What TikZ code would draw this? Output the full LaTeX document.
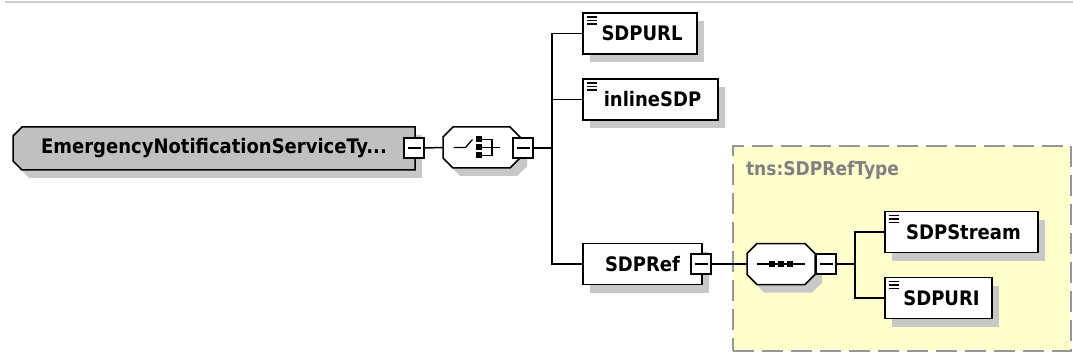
\documentclass[tikz,border=0pt]{standalone}
\usepackage{fontspec}
\setmainfont{DejaVu Sans Condensed}
\usetikzlibrary{shadows}
\definecolor{shcol}{RGB}{200,200,200}
\definecolor{rootfill}{RGB}{192,192,192}
\definecolor{cmplx}{RGB}{255,255,206}
\definecolor{dashc}{RGB}{150,150,150}
\definecolor{lblc}{RGB}{128,128,128}
\definecolor{topln}{RGB}{204,204,204}
\pgfdeclarelayer{bg}
\pgfsetlayers{bg,main}
% octagon outline round a node (#1), chamfer #2 pt
\newcommand\octopath[2]{([xshift=#2pt]#1.north west) -- ([xshift=-#2pt]#1.north east) -- ([yshift=-#2pt]#1.north east) -- ([yshift=#2pt]#1.south east) -- ([xshift=-#2pt]#1.south east) -- ([xshift=#2pt]#1.south west) -- ([yshift=#2pt]#1.south west) -- ([yshift=-#2pt]#1.north west) -- cycle}
% outline chamfered on the left corners only
\newcommand\leftchampath[2]{([xshift=#2pt]#1.north west) -- (#1.north east) -- (#1.south east) -- ([xshift=#2pt]#1.south west) -- ([yshift=#2pt]#1.south west) -- ([yshift=-#2pt]#1.north west) -- cycle}
\begin{document}
\begin{tikzpicture}[x=1pt,y=-1pt,
  every node/.style={inner sep=0pt, outer sep=0pt},
  lbl/.style={font=\bfseries\fontsize{20}{22}\selectfont},
  shad/.style={drop shadow={shadow xshift=7pt,shadow yshift=-8pt,fill=shcol,opacity=1}},
  elem/.style={rectangle, draw=black, line width=1.5pt, fill=white, minimum height=41pt, shad, lbl},
  texticon/.style={path picture={\foreach \dy in {4,7.5,11}{\draw[line width=1.5pt] ([shift={(3.5pt,-\dy pt)}]path picture bounding box.north west) -- ++(10pt,0pt);}}},
  minusbox/.style={rectangle, draw=black, line width=1.3pt, fill=white, minimum width=20pt, minimum height=20pt,
    path picture={\draw[line width=1.3pt] ([xshift=-6.5pt]path picture bounding box.center) -- ([xshift=6.5pt]path picture bounding box.center);}},
  holder/.style={rectangle, draw=none, fill=none},
  shapeline/.style={draw=black, line width=1.5pt},
  shadowfill/.style={fill=shcol, transform canvas={shift={(7pt,-8pt)}}},
  conn/.style={draw=black, line width=1.5pt},
  cpxbox/.style={rectangle, fill=cmplx, draw=dashc, line width=1.5pt, dash pattern=on 21pt off 8pt},
  cpxlabel/.style={font=\bfseries\fontsize{19}{21}\selectfont, text=lblc}
]
\useasboundingbox (0,0) rectangle (1073,358);
\draw[topln, line width=2pt] (5,2.5) -- (1073,2.5);

% complex type region
\node[cpxbox, minimum width=338pt, minimum height=205pt] (cpx) at (902,248.5) {};
\node[cpxlabel, anchor=west] (cpxlbl) at (746,170) {tns:SDPRefType};

% root element
\node[holder, lbl, minimum width=402pt, minimum height=43pt] (root) at (214,148.5) {EmergencyNotificationServiceTy...};
\begin{pgfonlayer}{bg}
  \fill[shadowfill] \leftchampath{root}{9};
  \path[shapeline, fill=rootfill] \leftchampath{root}{9};
\end{pgfonlayer}
\node[minusbox] (rootm) at (414,148) {};

% choice compositor
\node[holder, minimum width=77pt, minimum height=41pt] (ch) at (481.5,147.5) {};
\fill[shadowfill] \octopath{ch}{10};
\path[shapeline, fill=white] \octopath{ch}{10};
\node[minusbox] (chm) at (523,148) {};
\begin{scope}[shift={(ch.center)}, line width=1.3pt]
  \draw (-28,0) -- (-16,0) -- (-9,-8);
  \foreach \yy in {-8,0,8} {
    \fill (-5.5,\yy-3) rectangle (0.5,\yy+3);
    \draw (0.5,\yy) -- (10.5,\yy);
  }
  \draw (10.5,-8.65) -- (10.5,8.65);
  \draw (10.5,0) -- (18.5,0);
\end{scope}

% children
\node[elem, texticon, minimum width=114pt] (sdpurl) at (640,33.5) {\hspace{4pt}SDPURL};
\node[elem, texticon, minimum width=135pt] (inline) at (650.5,99.5) {\hspace{4pt}inlineSDP};
\node[elem, minimum width=119pt] (sdpref) at (642.5,264) {SDPRef};
\node[minusbox] (refm) at (701,264) {};

% sequence compositor
\node[holder, minimum width=68pt, minimum height=41pt] (sq) at (781,264) {};
\fill[shadowfill] \octopath{sq}{10};
\path[shapeline, fill=white] \octopath{sq}{10};
\node[minusbox] (sqm) at (826,264) {};
\begin{scope}[shift={(sq.center)}, line width=1.3pt]
  \draw (-24,0) -- (24,0);
  \foreach \xx in {-9,0,9} \fill (\xx-3.25,-3.25) rectangle (\xx+3.25,3.25);
\end{scope}

\node[elem, texticon, minimum width=153pt] (stream) at (961.5,232) {\hspace{4pt}SDPStream};
\node[elem, texticon, minimum width=107pt] (uri) at (938.5,298) {\hspace{6pt}SDPURI};

% connectors
\coordinate (tr) at (552,148);
\coordinate (br) at (855,264);
\draw[conn] (rootm.east) -- (ch.west);
\draw[conn] (chm.east) -- (tr);
\draw[conn] (tr) |- (sdpurl.west);
\draw[conn] (tr) |- (inline.west);
\draw[conn] (tr) |- (sdpref.west);
\draw[conn] (refm.east) -- (sq.west);
\draw[conn] (sqm.east) -- (br);
\draw[conn] (br) |- (stream.west);
\draw[conn] (br) |- (uri.west);
\end{tikzpicture}
\end{document}
